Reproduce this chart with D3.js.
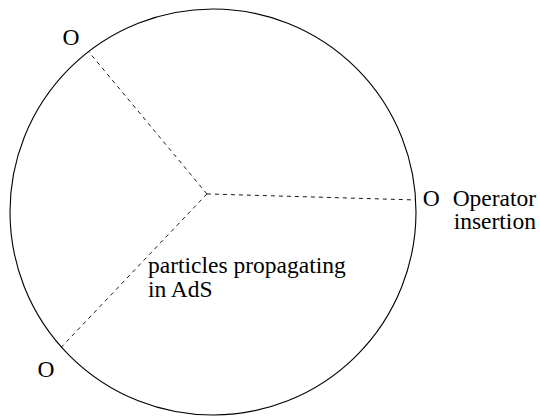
<!DOCTYPE html>
<html>
<head>
<meta charset="utf-8">
<script src="https://cdn.jsdelivr.net/npm/d3@7"></script>
<style>
  html, body { margin: 0; padding: 0; background: #fff; }
  svg { display: block; }
  text { font-family: "Liberation Serif", "Times New Roman", serif; fill: #000; }
</style>
</head>
<body>
<svg id="chart" width="540" height="417"></svg>
<script>
// Boundary operator insertions: angle on the AdS boundary (degrees, counter-clockwise from +x)
const insertionNames = ["right", "topLeft", "bottomLeft"];
const insertionAngles = [3.4, 127.8, 221.7];
const insertionLabels = ["O", "O", "O"];
// Bulk interaction vertex (disk coordinates, unit radius)
const vertex = [-0.03, 0.089];
// Annotation texts
const operatorNote = ["Operator", "insertion"];
const bulkNote = ["particles propagating", "in AdS"];

const svg = d3.select("#chart");
const x = d3.scaleLinear().domain([-1, 1]).range([10, 416]);
const y = d3.scaleLinear().domain([-1, 1]).range([415, 9]);
const fs = 23.5;

// AdS boundary
svg.append("circle")
  .attr("cx", x(0)).attr("cy", y(0))
  .attr("r", x(1) - x(0))
  .attr("fill", "none").attr("stroke", "#000").attr("stroke-width", 1.1);

const pts = insertionAngles.map(a => {
  const r = a * Math.PI / 180;
  return [Math.cos(r), Math.sin(r)];
});

// propagators
svg.selectAll("line.prop").data(pts).join("line")
  .attr("class", "prop")
  .attr("x1", x(vertex[0])).attr("y1", y(vertex[1]))
  .attr("x2", d => x(d[0])).attr("y2", d => y(d[1]))
  .attr("stroke", "#000").attr("stroke-width", 0.9)
  .attr("stroke-dasharray", "4,4");

// O labels
const labelOffsets = [[7, 6], [-26, -7], [-24, 30]];
svg.selectAll("text.op").data(pts).join("text")
  .attr("class", "op")
  .attr("x", (d, i) => x(d[0]) + labelOffsets[i][0])
  .attr("y", (d, i) => y(d[1]) + labelOffsets[i][1])
  .attr("font-size", fs)
  .text((d, i) => insertionLabels[i]);

// Operator insertion note
svg.append("text").attr("x", x(pts[0][0]) + 37).attr("y", y(pts[0][1]) + 6)
  .attr("font-size", fs).text(operatorNote[0]);
svg.append("text").attr("x", x(pts[0][0]) + 38).attr("y", y(pts[0][1]) + 29)
  .attr("font-size", fs).text(operatorNote[1]);

// bulk note
bulkNote.forEach((t, i) => {
  svg.append("text").attr("x", 148).attr("y", 273 + i * 24)
    .attr("font-size", fs).text(t);
});
</script>
</body>
</html>
